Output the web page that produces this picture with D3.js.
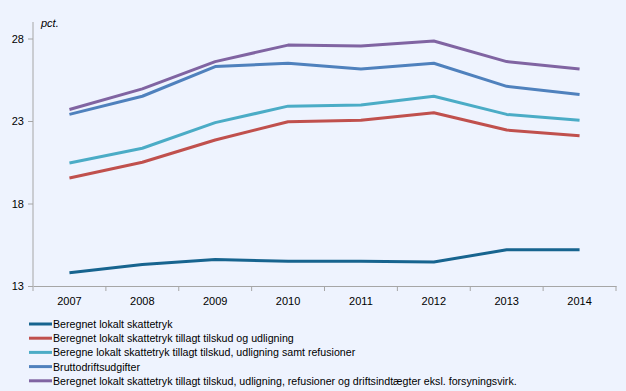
<!DOCTYPE html>
<html>
<head>
<meta charset="utf-8">
<script src="https://cdn.jsdelivr.net/npm/d3@7"></script>
<style>
  body { margin: 0; background: #eef3fe; }
  svg { display: block; font-family: "Liberation Sans", Arial, sans-serif; }
</style>
</head>
<body>
<script>
// Years on the x axis
const years = ["2007", "2008", "2009", "2010", "2011", "2012", "2013", "2014"];

// Y axis ticks
const yTicks = [13, 18, 23, 28];

// Series values (pct.)
const skattetryk = [13.8, 14.3, 14.6, 14.5, 14.5, 14.45, 15.2, 15.2];
const tilskudUdligning = [19.55, 20.5, 21.85, 22.95, 23.05, 23.5, 22.45, 22.1];
const samtRefusioner = [20.45, 21.35, 22.9, 23.9, 23.97, 24.5, 23.4, 23.05];
const brutto = [23.4, 24.5, 26.3, 26.5, 26.15, 26.5, 25.1, 24.6];
const driftsindt = [23.7, 24.95, 26.6, 27.6, 27.55, 27.85, 26.6, 26.15];

const seriesNames = [
	"Beregnet lokalt skattetryk",
	"Beregnet lokalt skattetryk tillagt tilskud og udligning",
	"Beregne lokalt skattetryk tillagt tilskud, udligning samt refusioner",
	"Bruttodriftsudgifter",
	"Beregnet lokalt skattetryk tillagt tilskud, udligning, refusioner og driftsindtægter eksl. forsyningsvirk."
];
const seriesColors = ["#17648f", "#c0504d", "#4bacc6", "#4f81bd", "#8064a2"];
const seriesValues = [skattetryk, tilskudUdligning, samtRefusioner, brutto, driftsindt];

const width = 626;
const height = 391;

var svg = d3.select("body").append("svg")
	.attr("width", width)
	.attr("height", height);

var plot = { left: 33, right: 616, top: 22, bottom: 286 };

// x scale: one band per year
var xScale = d3.scaleBand().domain(years).range([plot.left, plot.right]);
var yScale = d3.scaleLinear().domain([13, 29]).range([plot.bottom, plot.top]);

// y axis
var yAxis = d3.axisLeft(yScale).tickValues(yTicks).tickSize(5).tickPadding(4);
var yAxisGroup = svg.append("g")
	.attr("transform", `translate(${plot.left},0)`)
	.call(yAxis);

// x axis
var xAxis = d3.axisBottom(xScale).tickSize(0).tickPadding(11);
var xAxisGroup = svg.append("g")
	.attr("transform", `translate(0,${plot.bottom})`)
	.call(xAxis);

// x ticks at band boundaries
var xBounds = years.map(d => xScale(d)).concat([plot.right]);
xAxisGroup.selectAll(".bound").data(xBounds).enter().append("line")
	.attr("class", "bound")
	.attr("x1", d => d).attr("x2", d => d)
	.attr("y1", 0).attr("y2", 5)
	.attr("stroke", "#a6a6a6");

[yAxisGroup, xAxisGroup].forEach(function(g) {
	g.select(".domain").attr("stroke", "#a6a6a6");
	g.selectAll(".tick line").attr("stroke", "#a6a6a6");
	g.selectAll("text").attr("fill", "#000").style("font-size", "11px");
});
yAxisGroup.select(".domain").attr("d", `M0,${plot.top}V${plot.bottom}`);

svg.append("text")
	.attr("x", 41).attr("y", 27)
	.style("font-size", "11px")
	.style("font-style", "italic")
	.text("pct.");

// lines
var line = d3.line()
	.x((d, i) => xScale(years[i]) + xScale.bandwidth() / 2)
	.y(d => yScale(d));

svg.selectAll(".series").data(seriesValues).enter().append("path")
	.attr("class", "series")
	.attr("d", line)
	.attr("fill", "none")
	.attr("stroke", (d, i) => seriesColors[i])
	.attr("stroke-width", 3)
	.attr("stroke-linejoin", "round");

// legend
var legend = svg.selectAll(".legend").data(seriesNames).enter().append("g")
	.attr("class", "legend")
	.attr("transform", (d, i) => `translate(29,${324 + i * 14.2})`);

legend.append("line")
	.attr("x1", 0).attr("x2", 23)
	.attr("stroke", (d, i) => seriesColors[i])
	.attr("stroke-width", 3);

legend.append("text")
	.attr("x", 24).attr("y", 4)
	.style("font-size", "10.65px")
	.text(d => d);
</script>
</body>
</html>
